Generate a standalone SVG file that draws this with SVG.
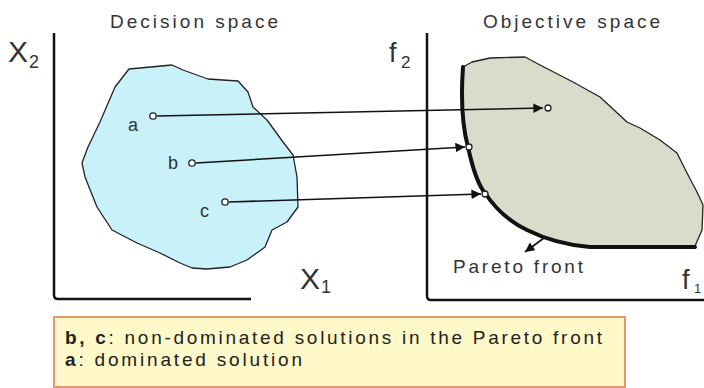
<svg xmlns="http://www.w3.org/2000/svg" width="704" height="388" viewBox="0 0 704 388">
<style>
.axis{fill:none;stroke:#111;stroke-width:2.5;stroke-linejoin:round}
.blob{stroke:#222;stroke-width:1.3;stroke-linejoin:round}
.txt{font-family:"Liberation Sans",Arial,sans-serif;fill:#333}
.conn{fill:none;stroke:#111;stroke-width:1.6}
.pt{fill:#fff;stroke:#222;stroke-width:1.3}
</style>
<defs>
<marker id="ah" viewBox="0 0 10 10" refX="10" refY="5" markerWidth="6" markerHeight="6" orient="auto" markerUnits="strokeWidth">
<path d="M0,0 L10,5 L0,10 z" fill="#111"/>
</marker>
</defs>
<rect width="704" height="388" fill="#fff"/>

<g id="decision-space">
<path class="axis" d="M54,33 V295 Q54,299 58,299 H251"/>
<text class="txt" x="110" y="28" font-size="19" textLength="168" lengthAdjust="spacing">Decision space</text>
<text class="txt" x="8" y="62" font-size="30">X</text>
<text class="txt" x="29" y="68" font-size="18">2</text>
<text class="txt" x="300" y="289" font-size="30">X</text>
<text class="txt" x="321" y="293" font-size="18">1</text>
<path class="blob" fill="#c8f1f9" d="M129,69 L172,65 L183,70 L208,79 L238,81 L248,92 L253,107 L267,120 L283,142 L293,155 L297,177 L298,207 L287,222 L272,230 L265,247 L247,260 L230,267 L207,269 L192,268 L180,263 L160,253 L137,243 L112,230 L97,207 L85,177 L82,163 L88,147 L100,122 L115,87 Z"/>
</g>

<g id="objective-space">
<path class="axis" d="M427,33 V296 Q427,300 431,300 H704"/>
<text class="txt" x="483" y="28" font-size="19" textLength="177" lengthAdjust="spacing">Objective space</text>
<text class="txt" x="389" y="62" font-size="27">f</text>
<text class="txt" x="401" y="68" font-size="17">2</text>
<text class="txt" x="682" y="289" font-size="27">f</text>
<text class="txt" x="694" y="293" font-size="13">1</text>
<path class="blob" fill="#d9dccb" d="M463,67 L472,62 L490,58 L525,57 L540,65 L573,82 L600,97 L627,122 L640,128 L660,140 L677,153 L687,173 L697,192 L703,205 L702,230 L695,246 L640,248 L590,247 L557,242 L527,230 L500,212 L485,193 L477,177 L468,147 L464,127 L462,100 Z"/>
<path id="pareto-front" fill="none" stroke="#111" stroke-width="4" stroke-linecap="round" stroke-linejoin="round" d="M463,67 C461,95 462,125 468,147 C473,170 478,185 485,193 C495,208 510,222 527,230 C545,239 565,245 590,247 L695,247"/>
<text class="txt" x="453" y="273" font-size="19" textLength="130" lengthAdjust="spacing">Pareto front</text>
</g>

<g id="connectors">
<line class="conn" x1="157" y1="116" x2="543" y2="108" marker-end="url(#ah)"/>
<line class="conn" x1="196" y1="163" x2="465" y2="147" marker-end="url(#ah)"/>
<line class="conn" x1="229" y1="202" x2="481" y2="194" marker-end="url(#ah)"/>
<line class="conn" x1="544" y1="238" x2="525" y2="252" marker-end="url(#ah)"/>
</g>

<g id="point-a">
<circle class="pt" cx="153" cy="116" r="3.2"/>
<text class="txt" x="128" y="131" font-size="18">a</text>
<circle class="pt" cx="548" cy="108" r="3"/>
</g>
<g id="point-b">
<circle class="pt" cx="192" cy="163" r="3.2"/>
<text class="txt" x="168" y="169" font-size="18">b</text>
<circle class="pt" cx="469" cy="147" r="3"/>
</g>
<g id="point-c">
<circle class="pt" cx="225" cy="202" r="3.2"/>
<text class="txt" x="200" y="217" font-size="18">c</text>
<circle class="pt" cx="485" cy="194" r="3"/>
</g>

<g id="legend">
<rect x="54" y="317" width="571" height="70" fill="#fff8c8" stroke="#e59a6e" stroke-width="2"/>
<text class="txt" x="65" y="344" font-size="19" style="fill:#222" textLength="537" lengthAdjust="spacing"><tspan font-weight="bold">b, c</tspan>: non-dominated solutions in the Pareto front</text>
<text class="txt" x="65" y="366" font-size="19" style="fill:#222" textLength="237" lengthAdjust="spacing"><tspan font-weight="bold">a</tspan>: dominated solution</text>
</g>
</svg>
